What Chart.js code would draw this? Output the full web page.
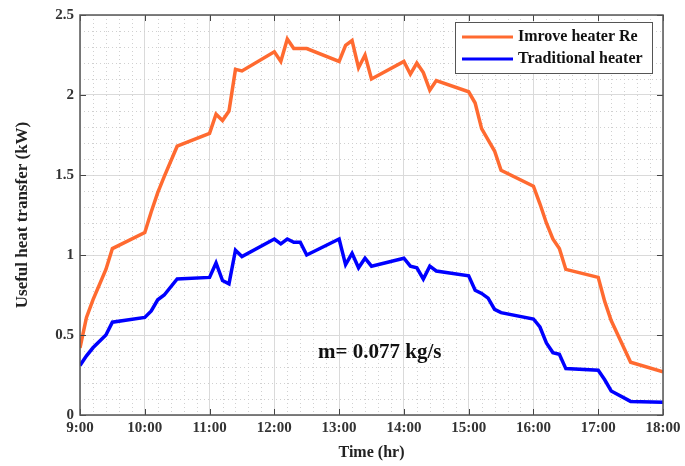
<!DOCTYPE html>
<html>
<head>
<meta charset="utf-8">
<script src="https://cdn.jsdelivr.net/npm/chart.js@4.4.0/dist/chart.umd.min.js"></script>
<style>
    html, body { margin: 0; padding: 0; background: #fff; }
    #wrap { width: 685px; height: 466px; }
</style>
</head>
<body>
<div id="wrap"><canvas id="heatChart"></canvas></div>
<script>
// Time of day in hours (9.1 = 9:06)
const hours = [9.0, 9.1, 9.2, 9.4, 9.5, 10.0, 10.1, 10.2, 10.3, 10.5,
    11.0, 11.1, 11.2, 11.3, 11.4, 11.5, 12.0, 12.1, 12.2, 12.3, 12.4, 12.5,
    13.0, 13.1, 13.2, 13.3, 13.4, 13.5, 14.0, 14.1, 14.2, 14.3, 14.4, 14.5,
    15.0, 15.1, 15.2, 15.3, 15.4, 15.5, 16.0, 16.1, 16.2, 16.3, 16.4, 16.5,
    17.0, 17.1, 17.2, 17.5, 18.0];

// Useful heat transfer (kW)
const improvedHeater = [0.42, 0.61, 0.72, 0.91, 1.04, 1.14, 1.27, 1.39, 1.49, 1.68,
    1.76, 1.88, 1.84, 1.90, 2.16, 2.15, 2.27, 2.21, 2.35, 2.29, 2.29, 2.29,
    2.21, 2.31, 2.34, 2.17, 2.25, 2.10, 2.21, 2.13, 2.20, 2.14, 2.03, 2.09,
    2.02, 1.95, 1.79, 1.72, 1.65, 1.53, 1.43, 1.32, 1.20, 1.10, 1.04, 0.91,
    0.86, 0.71, 0.59, 0.33, 0.27];

const traditionalHeater = [0.31, 0.37, 0.42, 0.50, 0.58, 0.61, 0.65, 0.72, 0.75, 0.85,
    0.86, 0.95, 0.84, 0.82, 1.03, 0.99, 1.10, 1.07, 1.10, 1.08, 1.08, 1.00,
    1.10, 0.94, 1.01, 0.92, 0.98, 0.93, 0.98, 0.93, 0.92, 0.85, 0.93, 0.90,
    0.87, 0.78, 0.76, 0.73, 0.66, 0.64, 0.60, 0.55, 0.45, 0.39, 0.38, 0.29,
    0.28, 0.22, 0.15, 0.085, 0.08];

const seriesNames = ['Imrove heater Re', 'Traditional heater'];
const seriesColors = ['#ff6a30', '#0000ff'];
const flowNote = 'm= 0.077 kg/s';

const serif = '"Liberation Serif", "Times New Roman", serif';

function toPoints(values) {
    return hours.map((h, i) => ({ x: h, y: values[i] }));
}

// Dotted minor grid, box frame and inward ticks (MATLAB look)
const frameAndGrid = {
    id: 'frameAndGrid',
    beforeDatasetsDraw(chart) {
        const { ctx, chartArea: a, scales: { x, y } } = chart;
        ctx.save();
        ctx.strokeStyle = '#d0d0d0';
        ctx.lineWidth = 1;
        ctx.setLineDash([1, 3]);
        for (let h = 9; h <= 18.001; h += 0.2) {
            if (Math.abs(h - Math.round(h)) < 0.01) continue;
            const px = Math.round(x.getPixelForValue(h)) + 0.5;
            ctx.beginPath(); ctx.moveTo(px, a.top); ctx.lineTo(px, a.bottom); ctx.stroke();
        }
        for (let v = 0; v <= 2.501; v += 0.1) {
            if (Math.abs(v * 2 - Math.round(v * 2)) < 0.01) continue;
            const py = Math.round(y.getPixelForValue(v)) + 0.5;
            ctx.beginPath(); ctx.moveTo(a.left, py); ctx.lineTo(a.right, py); ctx.stroke();
        }
        ctx.restore();
    },
    afterDraw(chart) {
        const { ctx, chartArea: a, scales: { x, y } } = chart;
        ctx.save();
        ctx.strokeStyle = '#444';
        ctx.lineWidth = 1;
        x.ticks.forEach(t => {
            const px = Math.round(x.getPixelForValue(t.value)) + 0.5;
            ctx.beginPath();
            ctx.moveTo(px, a.bottom); ctx.lineTo(px, a.bottom - 6);
            ctx.moveTo(px, a.top); ctx.lineTo(px, a.top + 6);
            ctx.stroke();
        });
        y.ticks.forEach(t => {
            const py = Math.round(y.getPixelForValue(t.value)) + 0.5;
            ctx.beginPath();
            ctx.moveTo(a.left, py); ctx.lineTo(a.left + 6, py);
            ctx.moveTo(a.right, py); ctx.lineTo(a.right - 6, py);
            ctx.stroke();
        });
        ctx.strokeStyle = '#555';
        ctx.lineWidth = 1.5;
        ctx.strokeRect(a.left, a.top, a.right - a.left, a.bottom - a.top);

        // mass flow note
        ctx.fillStyle = '#111';
        ctx.font = 'bold 21px ' + serif;
        ctx.textBaseline = 'middle';
        ctx.fillText(flowNote, 318, y.getPixelForValue(0.39));

        // boxed legend, top right
        const lx = 455, ly = 22, lw = 197, lh = 51;
        ctx.fillStyle = '#fff';
        ctx.fillRect(lx, ly, lw, lh);
        ctx.strokeStyle = '#555';
        ctx.lineWidth = 1;
        ctx.strokeRect(lx + 0.5, ly + 0.5, lw, lh);
        ctx.font = 'bold 16px ' + serif;
        seriesNames.forEach((name, i) => {
            const ry = ly + 15 + i * 22;
            ctx.strokeStyle = seriesColors[i];
            ctx.lineWidth = 3;
            ctx.beginPath(); ctx.moveTo(lx + 7, ry); ctx.lineTo(lx + 58, ry); ctx.stroke();
            ctx.fillStyle = '#111';
            ctx.fillText(name, lx + 63, ry);
        });
        ctx.restore();
    }
};

new Chart(document.getElementById('heatChart'), {
    type: 'line',
    data: {
        datasets: [
            {
                label: seriesNames[0],
                data: toPoints(improvedHeater),
                borderColor: seriesColors[0],
                borderWidth: 3.5,
                pointRadius: 0,
                tension: 0
            },
            {
                label: seriesNames[1],
                data: toPoints(traditionalHeater),
                borderColor: seriesColors[1],
                borderWidth: 3.5,
                pointRadius: 0,
                tension: 0
            }
        ]
    },
    options: {
        responsive: true,
        maintainAspectRatio: false,
        animation: false,
        layout: { padding: { top: 14, right: 22, left: 0, bottom: 0 } },
        plugins: {
            legend: { display: false },
            tooltip: { enabled: false }
        },
        scales: {
            x: {
                type: 'linear',
                min: 9,
                max: 18,
                afterFit: s => { s.height = 51; },
                ticks: {
                    stepSize: 1,
                    padding: 4,
                    color: '#333',
                    font: { family: serif, size: 15, weight: 'bold' },
                    callback: v => v + ':00'
                },
                grid: { color: '#dadada', drawTicks: false },
                border: { display: false },
                title: {
                    display: true,
                    text: 'Time (hr)',
                    color: '#222',
                    padding: { top: 4 },
                    font: { family: serif, size: 16, weight: 'bold' }
                }
            },
            y: {
                min: 0,
                max: 2.5,
                afterFit: s => { s.width = 80; },
                ticks: {
                    stepSize: 0.5,
                    padding: 6,
                    color: '#333',
                    font: { family: serif, size: 15, weight: 'bold' },
                    callback: v => String(v)
                },
                grid: { color: '#dadada', drawTicks: false },
                border: { display: false },
                title: {
                    display: true,
                    text: 'Useful heat transfer (kW)',
                    color: '#222',
                    padding: { top: 12, bottom: 8 },
                    font: { family: serif, size: 17, weight: 'bold' }
                }
            }
        }
    },
    plugins: [frameAndGrid]
});
</script>
</body>
</html>
